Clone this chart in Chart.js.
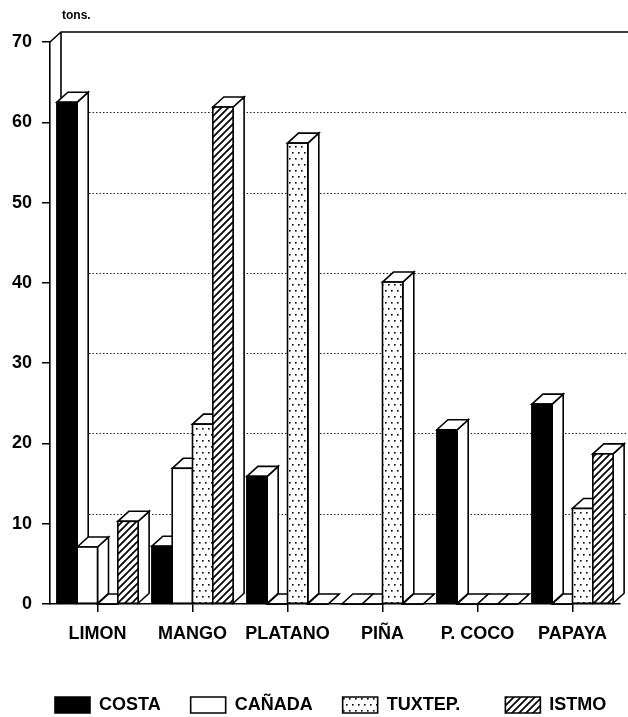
<!DOCTYPE html>
<html>
<head>
<meta charset="utf-8">
<script src="https://cdn.jsdelivr.net/npm/chart.js@4/dist/chart.umd.min.js"></script>
<style>
  html, body { margin: 0; padding: 0; background: #fff; }
  #wrap { width: 628px; height: 717px; }
</style>
</head>
<body>
<div id="wrap"><canvas id="chart"></canvas></div>
<script>
// data (tons.)
const categories = ['LIMON', 'MANGO', 'PLATANO', 'PIÑA', 'P. COCO', 'PAPAYA'];
const costa  = [62.5, 7.2, 15.9, 0, 21.7, 24.9];
const canada = [7.1, 16.9, 0, 0, 0, 0];
const tuxtep = [0, 22.4, 57.4, 40.1, 0, 11.9];
const istmo  = [10.3, 61.9, 0, 0, 0, 18.7];
const yTicks = [0, 10, 20, 30, 40, 50, 60, 70];

// 3d depth of the bars / back wall
const DX = 11, DY = -10;
const FONT = '"Liberation Sans", Arial, sans-serif';
// extra trailing spaces so the legend items spread like the original
const legendGaps = [5, 5, 8, 0];

function makePattern(kind) {
    let c = document.createElement('canvas');
    let g = c.getContext('2d');
    if (kind === 'dots') {
        c.width = 6; c.height = 12;
        g.fillStyle = '#fff'; g.fillRect(0, 0, 6, 12);
        g.fillStyle = '#000';
        g.fillRect(1, 2, 1.6, 1.6);
        g.fillRect(4, 8, 1.6, 1.6);
    } else {
        c.width = 7; c.height = 7;
        g.fillStyle = '#fff'; g.fillRect(0, 0, 7, 7);
        g.strokeStyle = '#000'; g.lineWidth = 1.7;
        g.beginPath();
        g.moveTo(-1, 8); g.lineTo(8, -1);
        g.moveTo(-5, 5); g.lineTo(5, -5);
        g.moveTo(2, 12); g.lineTo(12, 2);
        g.stroke();
    }
    return g.createPattern(c, 'repeat');
}

const fills = ['#000', '#fff', makePattern('dots'), makePattern('hatch')];

const bars3d = {
    id: 'bars3d',
    beforeDatasetsDraw(chart) {
        const ctx = chart.ctx;
        const y = chart.scales.y;
        const area = chart.chartArea;
        ctx.save();
        // back wall grid
        ctx.strokeStyle = '#222';
        ctx.lineWidth = 1;
        ctx.setLineDash([1.5, 2]);
        yTicks.slice(1, -1).forEach(v => {
            let py = Math.round(y.getPixelForValue(v) + DY) + 0.5;
            ctx.beginPath();
            ctx.moveTo(area.left + DX, py);
            ctx.lineTo(chart.width, py);
            ctx.stroke();
        });
        ctx.setLineDash([]);
        ctx.lineWidth = 1.6;
        ctx.strokeStyle = '#000';
        let top = y.getPixelForValue(yTicks[yTicks.length - 1]);
        let zero = y.getPixelForValue(0);
        ctx.beginPath();
        ctx.moveTo(chart.width, top + DY);
        ctx.lineTo(area.left + DX, top + DY);
        ctx.lineTo(area.left, top);
        ctx.moveTo(area.left + DX, top + DY);
        ctx.lineTo(area.left + DX, zero + DY);
        ctx.stroke();

        // bars, left to right so each front hides the previous side
        ctx.lineWidth = 1.6;
        for (let j = 0; j < categories.length; j++) {
            chart.data.datasets.forEach((ds, i) => {
                let el = chart.getDatasetMeta(i).data[j];
                let l = el.x - el.width / 2, r = el.x + el.width / 2;
                let t = el.y, b = el.base;
                ctx.fillStyle = '#fff';
                ctx.beginPath();
                ctx.moveTo(r, b); ctx.lineTo(r + DX, b + DY);
                ctx.lineTo(r + DX, t + DY); ctx.lineTo(r, t);
                ctx.closePath(); ctx.fill(); ctx.stroke();
                ctx.beginPath();
                ctx.moveTo(l, t); ctx.lineTo(l + DX, t + DY);
                ctx.lineTo(r + DX, t + DY); ctx.lineTo(r, t);
                ctx.closePath(); ctx.fill(); ctx.stroke();
                ctx.fillStyle = ds.backgroundColor;
                ctx.fillRect(l, t, r - l, b - t);
                ctx.strokeRect(l, t, r - l, b - t);
            });
        }
        ctx.restore();
        return false;
    },
    afterDraw(chart) {
        const ctx = chart.ctx;
        ctx.save();
        ctx.fillStyle = '#000';
        ctx.font = 'bold 12px ' + FONT;
        ctx.textBaseline = 'middle';
        ctx.fillText('tons.', chart.chartArea.left + DX + 1, 16);
        ctx.restore();
    }
};

let ctx = document.getElementById('chart').getContext('2d');
let chart = new Chart(ctx, {
    type: 'bar',
    data: {
        labels: categories,
        datasets: [
            { label: 'COSTA', data: costa },
            { label: 'CAÑADA', data: canada },
            { label: 'TUXTEP.', data: tuxtep },
            { label: 'ISTMO', data: istmo }
        ].map((d, i) => Object.assign(d, {
            backgroundColor: fills[i],
            borderColor: '#000',
            borderWidth: 1.6,
            borderSkipped: false,
            categoryPercentage: 0.855,
            barPercentage: 1
        }))
    },
    options: {
        responsive: true,
        maintainAspectRatio: false,
        animation: false,
        events: [],
        layout: { padding: { top: 42, left: 0, right: 8, bottom: -7 } },
        plugins: {
            tooltip: { enabled: false },
            legend: {
                position: 'bottom',
                align: 'start',
                fullSize: false,
                labels: {
                    color: '#000',
                    font: { family: FONT, size: 18, weight: 'bold' },
                    boxWidth: 35,
                    boxHeight: 16,
                    padding: 5,
                    generateLabels: c => Chart.defaults.plugins.legend.labels.generateLabels(c).map((it, i) => {
                        it.text = it.text + '\u00a0'.repeat(legendGaps[i]);
                        return it;
                    })
                }
            }
        },
        scales: {
            x: {
                afterFit: s => { s.height = 87; },
                grid: { display: true, drawOnChartArea: false, offset: false, tickLength: 8, color: '#000', lineWidth: 1.5 },
                border: { display: true, color: '#000', width: 1.6 },
                ticks: { color: '#000', padding: 11, font: { family: FONT, size: 18, weight: 'bold' } }
            },
            y: {
                min: 0,
                max: 70,
                afterFit: s => { s.width = 50; },
                afterBuildTicks: s => { s.ticks = yTicks.map(v => ({ value: v })); },
                grid: { drawOnChartArea: false, tickLength: 8, color: '#000', lineWidth: 1.5 },
                border: { display: true, color: '#000', width: 1.6 },
                ticks: { color: '#000', padding: 10, font: { family: FONT, size: 18, weight: 'bold' } }
            }
        }
    },
    plugins: [bars3d]
});
</script>
</body>
</html>
